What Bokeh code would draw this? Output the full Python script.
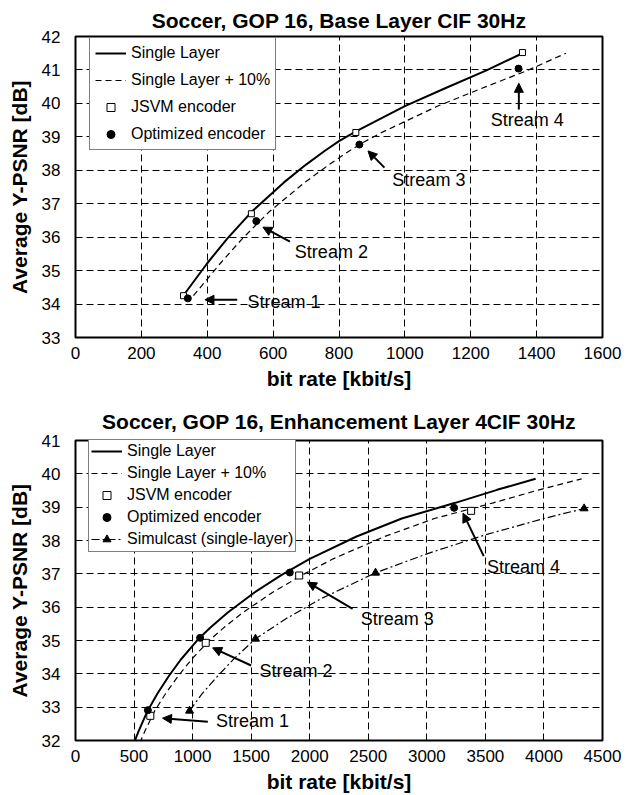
from bokeh.plotting import figure
from bokeh.layouts import column
from bokeh.models import FixedTicker, Arrow, NormalHead, Label, Range1d
from bokeh.embed import file_html
from bokeh.resources import INLINE

FONT = "Liberation Sans"

# ---------------- Top chart data (Base Layer CIF 30Hz) ----------------
top_title = "Soccer, GOP 16, Base Layer CIF 30Hz"
top_x_ticks = [0, 200, 400, 600, 800, 1000, 1200, 1400, 1600]
top_y_ticks = [33, 34, 35, 36, 37, 38, 39, 40, 41, 42]
top_sl_rate = [331, 400, 460, 534, 632, 700, 755, 800, 853, 1000, 1124, 1246, 1351]
top_sl_psnr = [34.30, 35.22, 35.95, 36.75, 37.63, 38.17, 38.57, 38.87, 39.17, 39.92, 40.46, 40.98, 41.47]
top_sl10_rate = [358, 440, 506, 587, 695, 770, 830, 880, 938, 1100, 1236, 1371, 1489]
top_sl10_psnr = [34.25, 35.22, 35.95, 36.75, 37.63, 38.17, 38.57, 38.87, 39.17, 39.92, 40.46, 40.98, 41.50]
top_jsvm_rate = [328, 534, 851, 1357]
top_jsvm_psnr = [34.25, 36.70, 39.13, 41.52]
top_opt_rate = [341, 549, 862, 1345]
top_opt_psnr = [34.17, 36.48, 38.77, 41.04]
top_stream_labels = ["Stream 1", "Stream 2", "Stream 3", "Stream 4"]
top_arrow_head_x = [393, 569, 888, 1346]
top_arrow_head_y = [34.13, 36.30, 38.58, 40.60]
top_arrow_tail_x = [491, 651, 938, 1346]
top_arrow_tail_y = [34.13, 35.87, 38.08, 39.82]
top_text_x = [522, 666, 962, 1261]
top_text_y = [34.07, 35.57, 37.71, 39.50]

# ---------------- Bottom chart data (Enhancement Layer 4CIF 30Hz) ----------------
bot_title = "Soccer, GOP 16, Enhancement Layer 4CIF 30Hz"
bot_x_ticks = [0, 500, 1000, 1500, 2000, 2500, 3000, 3500, 4000, 4500]
bot_y_ticks = [32, 33, 34, 35, 36, 37, 38, 39, 40, 41]
bot_sl_rate = [468, 540, 614, 700, 800, 900, 1043, 1150, 1300, 1528, 1757, 2000, 2400, 2786, 3243, 3600, 3929]
bot_sl_psnr = [31.65, 32.29, 32.88, 33.41, 33.95, 34.43, 35.02, 35.38, 35.84, 36.44, 36.96, 37.45, 38.12,
               38.66, 39.13, 39.52, 39.85]
bot_sl10_rate = [515, 594, 675, 770, 880, 990, 1147, 1265, 1430, 1681, 1933, 2200, 2640, 3065, 3567, 3960, 4322]
bot_sl10_psnr = [31.65, 32.29, 32.88, 33.41, 33.95, 34.43, 35.02, 35.38, 35.84, 36.44, 36.96, 37.45, 38.12,
                 38.66, 39.13, 39.52, 39.85]
bot_jsvm_rate = [639, 1112, 1910, 3378]
bot_jsvm_psnr = [32.74, 34.93, 36.95, 38.89]
bot_opt_rate = [618, 1064, 1830, 3233]
bot_opt_psnr = [32.91, 35.08, 37.04, 38.98]
bot_sim_rate = [974, 1080, 1200, 1350, 1537, 1800, 2100, 2562, 3000, 3500, 4000, 4343]
bot_sim_psnr = [32.89, 33.40, 33.88, 34.44, 35.05, 35.66, 36.26, 37.03, 37.60, 38.17, 38.66, 38.96]
bot_sim_pt_rate = [974, 1537, 2562, 4343]
bot_sim_pt_psnr = [32.89, 35.05, 37.03, 38.96]
bot_stream_labels = ["Stream 1", "Stream 2", "Stream 3", "Stream 4"]
bot_arrow_head_x = [743, 1171, 1980, 3309]
bot_arrow_head_y = [32.67, 34.78, 36.75, 38.82]
bot_arrow_tail_x = [1130, 1500, 2366, 3486]
bot_arrow_tail_y = [32.56, 34.25, 35.95, 37.53]
bot_text_x = [1200, 1571, 2435, 3514]
bot_text_y = [32.58, 34.10, 35.65, 37.21]

X_LABEL = "bit rate [kbit/s]"
Y_LABEL = "Average Y-PSNR [dB]"


def make_fig(title, xr, yr, xt, yt, height, top_border, bottom_border, title_standoff):
    p = figure(width=634, height=height, output_backend="svg", toolbar_location=None,
               x_range=Range1d(*xr), y_range=Range1d(*yr),
               min_border_left=75, min_border_right=32,
               min_border_top=top_border, min_border_bottom=bottom_border)
    p.title.text = title
    p.title.align = "center"
    p.title.text_font = FONT
    p.title.text_font_size = "21px"
    p.title.text_font_style = "bold"
    p.title.text_color = "black"
    p.title.standoff = title_standoff
    p.background_fill_color = "white"
    p.border_fill_color = "white"
    p.outline_line_color = "black"
    p.outline_line_width = 2
    p.xaxis.ticker = FixedTicker(ticks=xt)
    p.yaxis.ticker = FixedTicker(ticks=yt)
    p.xgrid.ticker = FixedTicker(ticks=xt)
    p.ygrid.ticker = FixedTicker(ticks=yt)
    for g in (p.xgrid, p.ygrid):
        g.grid_line_color = "black"
        g.grid_line_alpha = 1.0
        g.grid_line_width = 1
        g.grid_line_dash = "7 4"
    for ax in (p.xaxis, p.yaxis):
        ax.axis_line_color = None
        ax.major_tick_line_color = None
        ax.minor_tick_line_color = None
        ax.major_label_text_font = FONT
        ax.major_label_text_font_size = "17px"
        ax.major_label_text_color = "black"
        ax.axis_label_text_font = FONT
        ax.axis_label_text_font_size = "21px"
        ax.axis_label_text_font_style = "bold"
        ax.axis_label_text_color = "black"
    p.xaxis.axis_label = X_LABEL
    p.yaxis.axis_label = Y_LABEL
    p.xaxis.major_label_standoff = 3
    p.yaxis.major_label_standoff = 9
    p.xaxis.axis_label_standoff = 5
    p.yaxis.axis_label_standoff = 8
    return p


def add_streams(p, labels, hx, hy, tx, ty, lx, ly):
    for i, lab in enumerate(labels):
        p.add_layout(Arrow(end=NormalHead(size=9, fill_color="black", line_color="black"),
                           x_start=tx[i], y_start=ty[i], x_end=hx[i], y_end=hy[i],
                           line_color="black", line_width=2))
        p.add_layout(Label(x=lx[i], y=ly[i], text=lab, text_font=FONT, text_font_size="18px",
                           text_baseline="middle", text_align="left", text_color="black"))


def style_legend(p, vx, vy, spacing, padding):
    lg = p.legend[0]
    lg.location = (vx, vy)
    lg.label_text_font = FONT
    lg.label_text_font_size = "16px"
    lg.label_text_color = "black"
    lg.border_line_color = "black"
    lg.border_line_width = 1
    lg.background_fill_color = "white"
    lg.background_fill_alpha = 1.0
    lg.glyph_width = 31
    lg.glyph_height = 20
    lg.label_height = 20
    lg.label_standoff = 5
    lg.spacing = spacing
    lg.padding = padding
    lg.margin = 0


# ---------------- Top figure ----------------
p1 = make_fig(top_title, (0, 1600), (33, 42), top_x_ticks, top_y_ticks, 398, 36, 61, 10)
p1.line(top_sl_rate, top_sl_psnr, line_color="black", line_width=2, legend_label="Single Layer")
p1.line(top_sl10_rate, top_sl10_psnr, line_color="black", line_width=1.2, line_dash="6 4",
        legend_label="Single Layer + 10%")
p1.scatter(top_jsvm_rate, top_jsvm_psnr, marker="square", size=6, fill_color="white",
           line_color="black", line_width=1, legend_label="JSVM encoder")
p1.scatter(top_opt_rate, top_opt_psnr, marker="circle", size=7, fill_color="black",
           line_color="black", legend_label="Optimized encoder")
add_streams(p1, top_stream_labels, top_arrow_head_x, top_arrow_head_y,
            top_arrow_tail_x, top_arrow_tail_y, top_text_x, top_text_y)
style_legend(p1, 14, 301 - 3 - 111, 7, 5)

# ---------------- Bottom figure ----------------
p2 = make_fig(bot_title, (0, 4500), (32, 41), bot_x_ticks, bot_y_ticks, 397, 42, 54, 16)
p2.line(bot_sl_rate, bot_sl_psnr, line_color="black", line_width=2, legend_label="Single Layer")
p2.line(bot_sl10_rate, bot_sl10_psnr, line_color="black", line_width=1.2, line_dash="6 4",
        legend_label="Single Layer + 10%")
p2.scatter(bot_jsvm_rate, bot_jsvm_psnr, marker="square", size=7, fill_color="white",
           line_color="black", line_width=1, legend_label="JSVM encoder")
p2.scatter(bot_opt_rate, bot_opt_psnr, marker="circle", size=7, fill_color="black",
           line_color="black", legend_label="Optimized encoder")
p2.line(bot_sim_rate, bot_sim_psnr, line_color="black", line_width=1.2, line_dash="8 3 2 3",
        legend_label="Simulcast (single-layer)")
p2.scatter(bot_sim_pt_rate, bot_sim_pt_psnr, marker="triangle", size=8, fill_color="black",
           line_color="black", legend_label="Simulcast (single-layer)")
add_streams(p2, bot_stream_labels, bot_arrow_head_x, bot_arrow_head_y,
            bot_arrow_tail_x, bot_arrow_tail_y, bot_text_x, bot_text_y)
style_legend(p2, 13, 301 - 1 - 112, 2, 2)

layout = column(p1, p2)
open("out.html", "w").write(file_html(layout, INLINE))
